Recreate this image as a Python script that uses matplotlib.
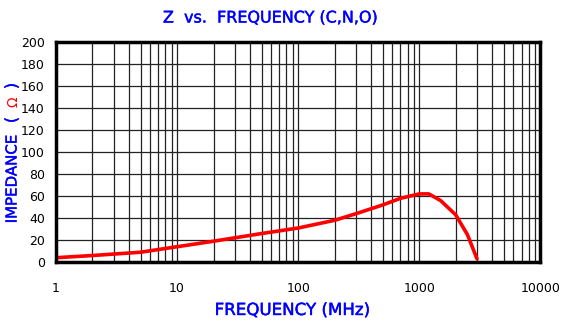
import numpy as np
import matplotlib.pyplot as plt
import matplotlib.patheffects as pe
from matplotlib.ticker import FixedLocator, NullFormatter

# Impedance vs frequency readings
freq_mhz = [1, 2, 5, 10, 20, 50, 100, 200, 300, 500, 700, 1000, 1200, 1500, 2000, 2500, 3000]
impedance = [4, 6, 9, 14, 19, 26, 31, 38, 44, 52, 58, 62, 62, 56, 43, 25, 3]

x_ticks = [1, 10, 100, 1000, 10000]
y_ticks = list(range(0, 201, 20))

fig = plt.figure(figsize=(5.64, 3.24), dpi=100)
ax = fig.add_axes([0.0993, 0.191, 0.8587, 0.679])

ax.plot(freq_mhz, impedance, color='red', linewidth=2.6, solid_capstyle='round')

ax.set_xscale('log')
ax.set_xlim(1, 10000)
ax.set_ylim(0, 200)
ax.xaxis.set_major_locator(FixedLocator(x_ticks))
ax.set_xticklabels([str(t) for t in x_ticks])
minors = [m * 10 ** d for d in range(4) for m in range(2, 10)]
ax.xaxis.set_minor_locator(FixedLocator(minors))
ax.xaxis.set_minor_formatter(NullFormatter())
ax.set_yticks(y_ticks)

ax.grid(True, which='both', axis='x', color='#222222', linewidth=0.9)
ax.grid(True, which='major', axis='y', color='#222222', linewidth=0.9)
ax.tick_params(which='both', length=0, labelsize=9, pad=8)
ax.tick_params(axis='x', pad=14)
for s in ax.spines.values():
    s.set_linewidth(2.5)
    s.set_color('black')

# slightly heavier strokes for the blue captions
thick = [pe.withStroke(linewidth=0.3, foreground='blue')]

fig.text(0.48, 1 - 18 / 324, 'Z  vs.  FREQUENCY (C,N,O)', color='blue', fontsize=11.5,
         ha='center', va='center', family='DejaVu Sans', path_effects=thick)
fig.text(292 / 564, 1 - 310 / 324, 'FREQUENCY (MHz)', color='blue', fontsize=12,
         ha='center', va='center', family='DejaVu Sans', path_effects=thick)

# y-axis label with the ohm sign in red
lx = 12 / 564
fig.text(lx, 1 - 179 / 324, 'IMPEDANCE', color='blue', fontsize=10.8,
         rotation=90, ha='center', va='center', family='DejaVu Sans', path_effects=thick)
fig.text(lx, 1 - 120 / 324, '(', color='blue', fontsize=11.5,
         rotation=90, ha='center', va='center', family='DejaVu Sans', path_effects=thick)
fig.text(lx + 1 / 564, 1 - 102 / 324, 'Ω', color='red', fontsize=10,
         rotation=90, ha='center', va='center', family='DejaVu Sans')
fig.text(lx, 1 - 86 / 324, ')', color='blue', fontsize=11.5,
         rotation=90, ha='center', va='center', family='DejaVu Sans', path_effects=thick)

fig.savefig('out.png', dpi=100)
